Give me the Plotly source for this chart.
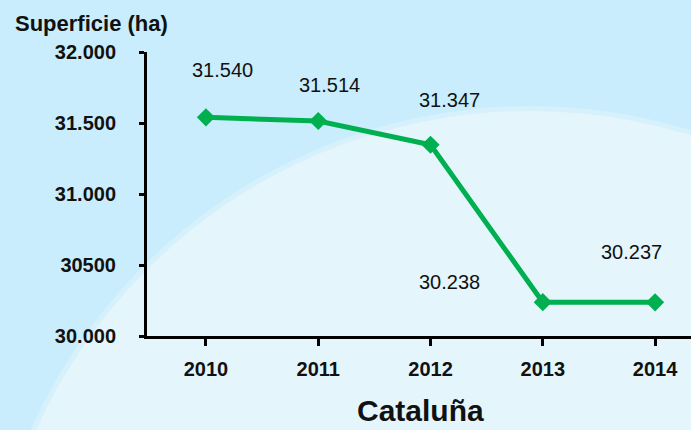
import plotly.graph_objects as go

# ---- data ----
years = ["2010", "2011", "2012", "2013", "2014"]
superficie = [31540, 31514, 31347, 30238, 30237]
labels = ["31.540", "31.514", "31.347", "30.238", "30.237"]
y_tickvals = [30000, 30500, 31000, 31500, 32000]
y_ticktext = ["30.000", "30500", "31.000", "31.500", "32.000"]

# label offsets in pixels (dx, dy up)
label_shift = [(17, 47), (11, 36), (19, 45), (-93, 20), (-24, 50)]

W, H = 691, 430
L, R, T, B = 147, 0, 52, 94
FONT = "Arial, Liberation Sans, sans-serif"
GREEN = "#00B050"

def px_x(x):
    return (x - L) / (W - L - R)

def px_y(y):
    return (H - B - y) / (H - B - T)

fig = go.Figure()
fig.add_trace(go.Scatter(
    x=years, y=superficie, mode="lines+markers",
    line=dict(color=GREEN, width=5),
    marker=dict(symbol="diamond", size=14, color=GREEN),
    hoverinfo="skip", showlegend=False,
))

for i, (v, t, (dx, dy)) in enumerate(zip(superficie, labels, label_shift)):
    fig.add_annotation(x=i, y=v, text=t, showarrow=False, xshift=dx, yshift=dy,
                       font=dict(family=FONT, size=20, color="#111111"),
                       xanchor="center", yanchor="middle")

# background arc (large light circle)
cx, cy, rad = 530, 653, 542
for extra, col in [(5, "#D7F1FC"), (0, "#E4F5FC")]:
    r_ = rad + extra
    fig.add_shape(type="circle", xref="paper", yref="paper", layer="below",
                  x0=px_x(cx - r_), x1=px_x(cx + r_),
                  y0=px_y(cy + r_), y1=px_y(cy - r_),
                  fillcolor=col, line=dict(width=0))

fig.add_annotation(xref="paper", yref="paper", x=px_x(13), y=px_y(23),
                   text="<b>Superficie (ha)</b>", showarrow=False,
                   xanchor="left", yanchor="middle",
                   font=dict(family=FONT, size=22, color="#111111"))
fig.add_annotation(xref="paper", yref="paper", x=px_x(420), y=px_y(429),
                   text="<b>Cataluña</b>", showarrow=False,
                   xanchor="center", yanchor="bottom",
                   font=dict(family=FONT, size=30, color="#111111"))

fig.update_layout(
    width=W, height=H,
    margin=dict(l=L, r=R, t=T, b=B, pad=0),
    paper_bgcolor="#C9EDFC",
    plot_bgcolor="rgba(0,0,0,0)",
    xaxis=dict(type="category", range=[-0.525, 4.32], showgrid=False, zeroline=False,
               showline=True, linecolor="black", linewidth=3,
               ticks="outside", ticklen=7, tickwidth=3, tickcolor="black",
               ticklabelstandoff=6,
               tickfont=dict(family=FONT, size=20, color="#111111", weight="bold")),
    yaxis=dict(range=[30000, 32000], showgrid=False, zeroline=False,
               showline=True, linecolor="black", linewidth=3,
               ticks="outside", ticklen=5, tickwidth=3, tickcolor="black",
               tickvals=y_tickvals, ticktext=y_ticktext,
               ticklabelstandoff=19,
               tickfont=dict(family=FONT, size=20, color="#111111", weight="bold")),
)

fig.write_html("out.html", config={"displayModeBar": False},
               post_script="document.body.style.margin='0';document.body.style.overflow='hidden';")
